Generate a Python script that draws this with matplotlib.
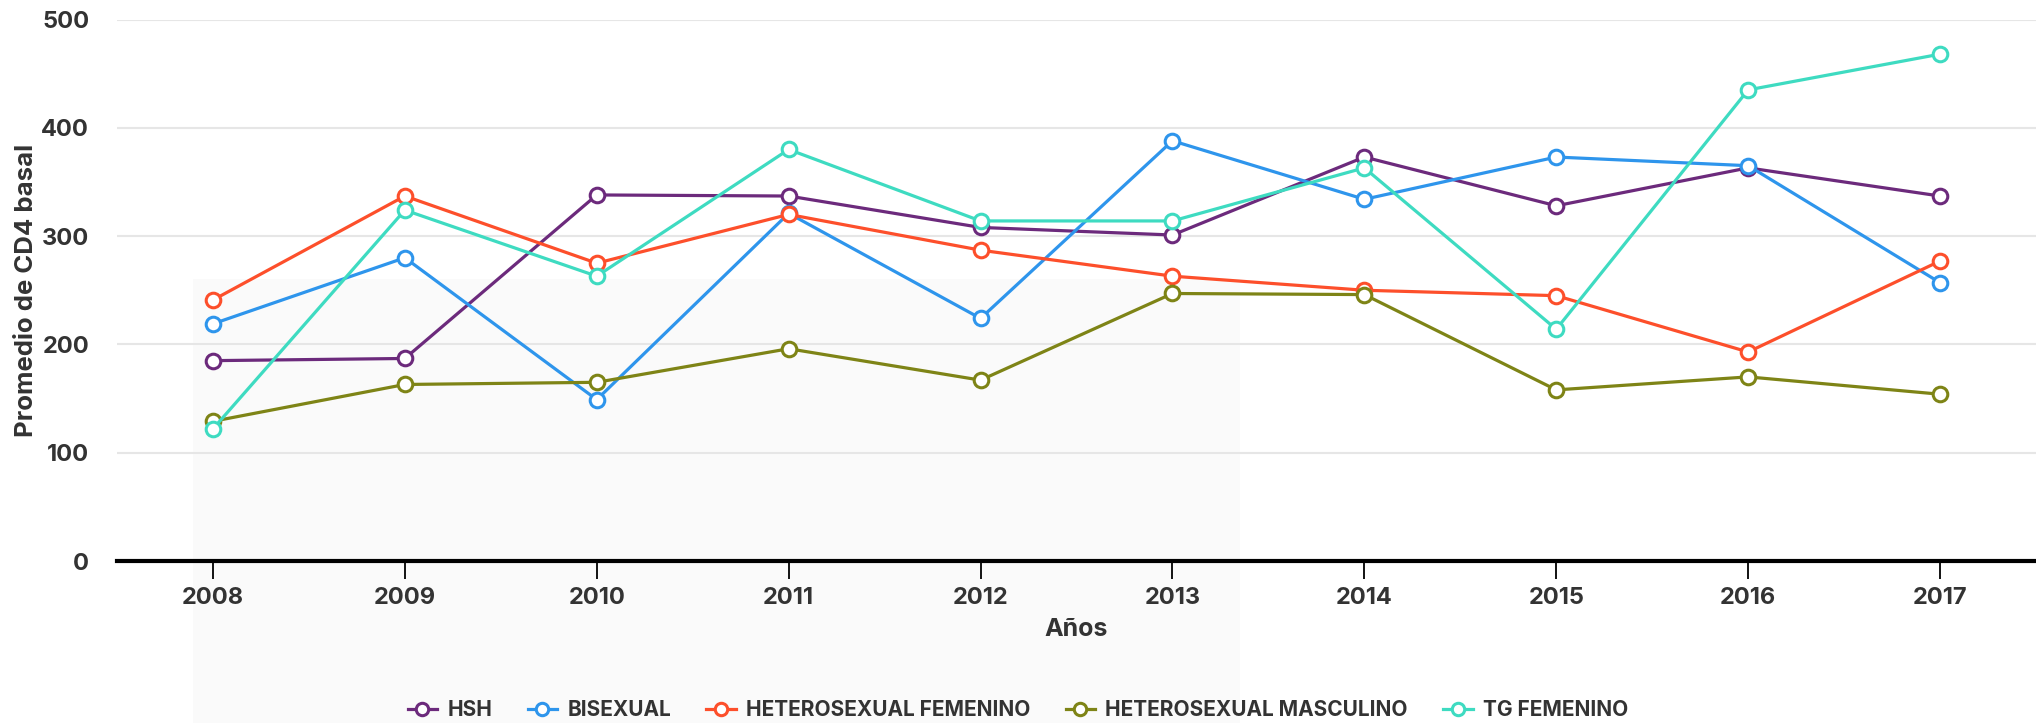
import matplotlib
matplotlib.use("Agg")
import matplotlib.pyplot as plt
from matplotlib.patches import Rectangle

plt.rcParams['font.family'] = ['Inter', 'DejaVu Sans']

years = [2008, 2009, 2010, 2011, 2012, 2013, 2014, 2015, 2016, 2017]

hsh          = [185, 187, 338, 337, 308, 301, 373, 328, 363, 337]
bisexual     = [219, 280, 149, 321, 224, 388, 334, 373, 365, 257]
hetero_fem   = [241, 337, 275, 320, 287, 263, 250, 245, 193, 277]
hetero_masc  = [129, 163, 165, 196, 167, 247, 246, 158, 170, 154]
tg_fem       = [122, 324, 263, 380, 314, 314, 363, 214, 435, 468]

series = [
    ("HSH", hsh, "#6c2a7c"),
    ("BISEXUAL", bisexual, "#2e95ec"),
    ("HETEROSEXUAL FEMENINO", hetero_fem, "#fd4f2b"),
    ("HETEROSEXUAL MASCULINO", hetero_masc, "#7e8416"),
    ("TG FEMENINO", tg_fem, "#3edbc1"),
]

text_color = "#333333"

fig = plt.figure(figsize=(20.36, 7.23), dpi=100)
ax = fig.add_axes([117 / 2036, 1 - 561 / 723, 1 - 117 / 2036, (561 - 19.5) / 723])
ax.patch.set_visible(False)

# faint grey block behind the chart
fig.patches.append(Rectangle((193 / 2036, 0), (1240 - 193) / 2036, 1 - 279 / 723,
                             transform=fig.transFigure, facecolor="#fafafa",
                             edgecolor="none", zorder=-10))

for name, vals, col in series:
    ax.plot(years, vals, color=col, lw=2.3, marker="o", ms=10.5,
            mfc="white", mec=col, mew=2.2, label=name, zorder=3)

ax.set_xlim(2007.5, 2017.5)
ax.set_ylim(0, 500)
ax.set_xticks(years)
ax.set_yticks(range(0, 501, 100))
ax.grid(axis="y", color="#e6e6e6", lw=1.5, zorder=0)
ax.set_axisbelow(True)

for s in ["top", "right", "left"]:
    ax.spines[s].set_visible(False)
ax.spines["bottom"].set_linewidth(3)
ax.spines["bottom"].set_color("black")

ax.tick_params(axis="x", length=13, width=1.3, color="black", pad=6,
               labelsize=17, labelcolor=text_color)
ax.tick_params(axis="y", length=0, pad=20, labelsize=17, labelcolor=text_color)
for lab in ax.get_xticklabels() + ax.get_yticklabels():
    lab.set_fontweight("bold")

ax.set_ylabel("Promedio de CD4 basal", fontsize=18.5, fontweight="bold", color=text_color)
ax.yaxis.set_label_coords(-0.0474, 0.5)
ax.yaxis.label.set_va("center")
ax.set_xlabel("Años", fontsize=18, fontweight="bold", color=text_color)
ax.xaxis.set_label_coords(0.5, -0.127)
ax.xaxis.label.set_va("center")

leg = fig.legend(loc="center", bbox_to_anchor=(0.5, 0.018), ncol=5, frameon=False,
                 handlelength=1.4, handletextpad=0.5, columnspacing=1.7,
                 prop={"size": 15, "weight": "bold"}, markerscale=0.85)
for t in leg.get_texts():
    t.set_color(text_color)

fig.savefig("out.png", dpi=100)
